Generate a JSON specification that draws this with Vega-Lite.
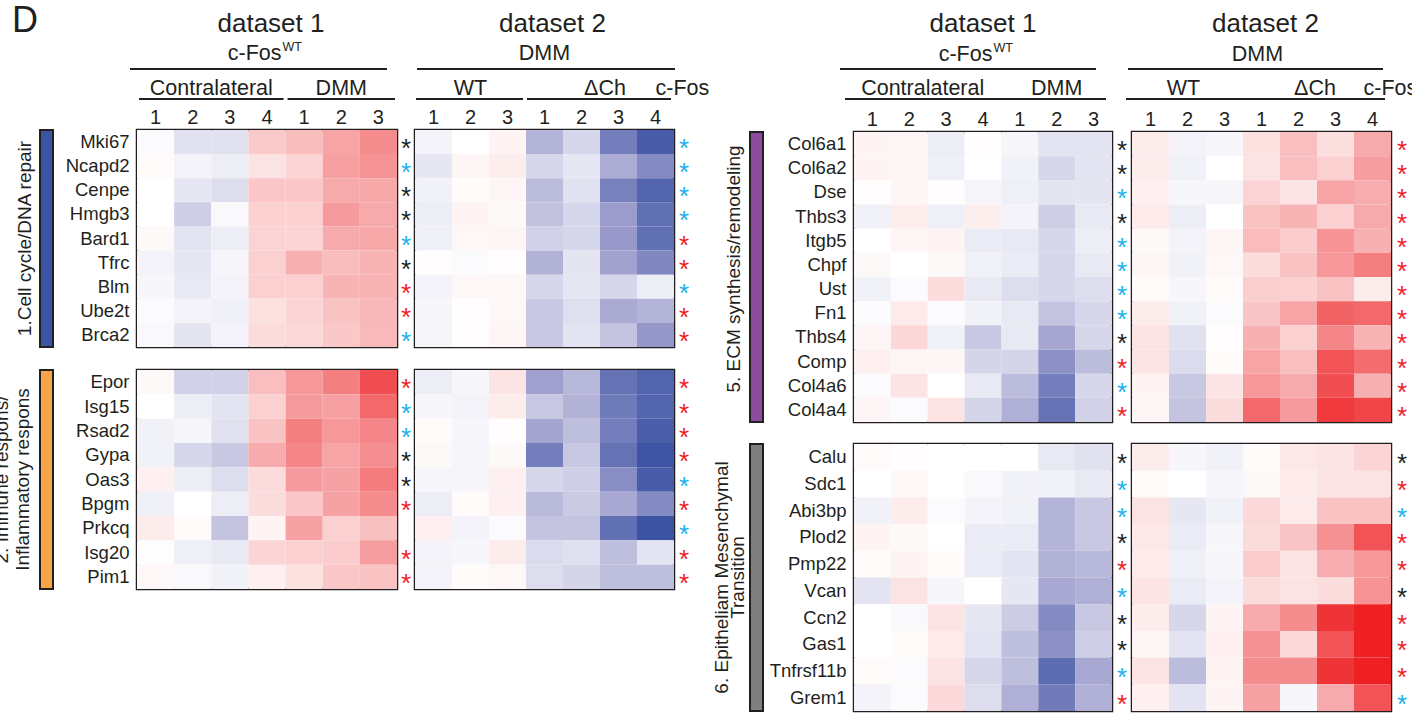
{
"$schema":"https://vega.github.io/schema/vega-lite/v6.json",
"padding":0,
"background":"white",
"config":{"font":"Liberation Sans","view":{"stroke":null},"axis":{"labelFont":"Liberation Sans","labelColor":"#231f20","domain":false,"ticks":false,"grid":false},"text":{"font":"Liberation Sans","color":"#231f20"}},
"datasets":{
"cells":[
{"panel":"g1d1","gene":"Mki67","col":"C1","val":-0.02},{"panel":"g1d1","gene":"Mki67","col":"C2","val":-0.15},{"panel":"g1d1","gene":"Mki67","col":"C3","val":-0.15},{"panel":"g1d1","gene":"Mki67","col":"C4","val":0.28},{"panel":"g1d1","gene":"Mki67","col":"D1","val":0.35},{"panel":"g1d1","gene":"Mki67","col":"D2","val":0.48},{"panel":"g1d1","gene":"Mki67","col":"D3","val":0.58},
{"panel":"g1d1","gene":"Ncapd2","col":"C1","val":0.02},{"panel":"g1d1","gene":"Ncapd2","col":"C2","val":-0.06},{"panel":"g1d1","gene":"Ncapd2","col":"C3","val":-0.09},{"panel":"g1d1","gene":"Ncapd2","col":"C4","val":0.15},{"panel":"g1d1","gene":"Ncapd2","col":"D1","val":0.22},{"panel":"g1d1","gene":"Ncapd2","col":"D2","val":0.5},{"panel":"g1d1","gene":"Ncapd2","col":"D3","val":0.55},
{"panel":"g1d1","gene":"Cenpe","col":"C1","val":0},{"panel":"g1d1","gene":"Cenpe","col":"C2","val":-0.12},{"panel":"g1d1","gene":"Cenpe","col":"C3","val":-0.17},{"panel":"g1d1","gene":"Cenpe","col":"C4","val":0.3},{"panel":"g1d1","gene":"Cenpe","col":"D1","val":0.3},{"panel":"g1d1","gene":"Cenpe","col":"D2","val":0.45},{"panel":"g1d1","gene":"Cenpe","col":"D3","val":0.46},
{"panel":"g1d1","gene":"Hmgb3","col":"C1","val":0},{"panel":"g1d1","gene":"Hmgb3","col":"C2","val":-0.25},{"panel":"g1d1","gene":"Hmgb3","col":"C3","val":-0.03},{"panel":"g1d1","gene":"Hmgb3","col":"C4","val":0.24},{"panel":"g1d1","gene":"Hmgb3","col":"D1","val":0.24},{"panel":"g1d1","gene":"Hmgb3","col":"D2","val":0.52},{"panel":"g1d1","gene":"Hmgb3","col":"D3","val":0.45},
{"panel":"g1d1","gene":"Bard1","col":"C1","val":0.03},{"panel":"g1d1","gene":"Bard1","col":"C2","val":-0.14},{"panel":"g1d1","gene":"Bard1","col":"C3","val":-0.09},{"panel":"g1d1","gene":"Bard1","col":"C4","val":0.23},{"panel":"g1d1","gene":"Bard1","col":"D1","val":0.23},{"panel":"g1d1","gene":"Bard1","col":"D2","val":0.45},{"panel":"g1d1","gene":"Bard1","col":"D3","val":0.46},
{"panel":"g1d1","gene":"Tfrc","col":"C1","val":-0.06},{"panel":"g1d1","gene":"Tfrc","col":"C2","val":-0.12},{"panel":"g1d1","gene":"Tfrc","col":"C3","val":-0.05},{"panel":"g1d1","gene":"Tfrc","col":"C4","val":0.25},{"panel":"g1d1","gene":"Tfrc","col":"D1","val":0.42},{"panel":"g1d1","gene":"Tfrc","col":"D2","val":0.35},{"panel":"g1d1","gene":"Tfrc","col":"D3","val":0.4},
{"panel":"g1d1","gene":"Blm","col":"C1","val":-0.04},{"panel":"g1d1","gene":"Blm","col":"C2","val":-0.11},{"panel":"g1d1","gene":"Blm","col":"C3","val":-0.06},{"panel":"g1d1","gene":"Blm","col":"C4","val":0.25},{"panel":"g1d1","gene":"Blm","col":"D1","val":0.25},{"panel":"g1d1","gene":"Blm","col":"D2","val":0.4},{"panel":"g1d1","gene":"Blm","col":"D3","val":0.4},
{"panel":"g1d1","gene":"Ube2t","col":"C1","val":-0.02},{"panel":"g1d1","gene":"Ube2t","col":"C2","val":-0.06},{"panel":"g1d1","gene":"Ube2t","col":"C3","val":-0.08},{"panel":"g1d1","gene":"Ube2t","col":"C4","val":0.16},{"panel":"g1d1","gene":"Ube2t","col":"D1","val":0.22},{"panel":"g1d1","gene":"Ube2t","col":"D2","val":0.32},{"panel":"g1d1","gene":"Ube2t","col":"D3","val":0.38},
{"panel":"g1d1","gene":"Brca2","col":"C1","val":-0.03},{"panel":"g1d1","gene":"Brca2","col":"C2","val":-0.13},{"panel":"g1d1","gene":"Brca2","col":"C3","val":-0.06},{"panel":"g1d1","gene":"Brca2","col":"C4","val":0.19},{"panel":"g1d1","gene":"Brca2","col":"D1","val":0.2},{"panel":"g1d1","gene":"Brca2","col":"D2","val":0.29},{"panel":"g1d1","gene":"Brca2","col":"D3","val":0.37},
{"panel":"g1d2","gene":"Mki67","col":"W1","val":-0.06},{"panel":"g1d2","gene":"Mki67","col":"W2","val":0},{"panel":"g1d2","gene":"Mki67","col":"W3","val":0.06},{"panel":"g1d2","gene":"Mki67","col":"K1","val":-0.38},{"panel":"g1d2","gene":"Mki67","col":"K2","val":-0.2},{"panel":"g1d2","gene":"Mki67","col":"K3","val":-0.7},{"panel":"g1d2","gene":"Mki67","col":"K4","val":-0.93},
{"panel":"g1d2","gene":"Ncapd2","col":"W1","val":-0.12},{"panel":"g1d2","gene":"Ncapd2","col":"W2","val":0.05},{"panel":"g1d2","gene":"Ncapd2","col":"W3","val":0.09},{"panel":"g1d2","gene":"Ncapd2","col":"K1","val":-0.2},{"panel":"g1d2","gene":"Ncapd2","col":"K2","val":-0.12},{"panel":"g1d2","gene":"Ncapd2","col":"K3","val":-0.42},{"panel":"g1d2","gene":"Ncapd2","col":"K4","val":-0.62},
{"panel":"g1d2","gene":"Cenpe","col":"W1","val":-0.07},{"panel":"g1d2","gene":"Cenpe","col":"W2","val":0.02},{"panel":"g1d2","gene":"Cenpe","col":"W3","val":0.05},{"panel":"g1d2","gene":"Cenpe","col":"K1","val":-0.34},{"panel":"g1d2","gene":"Cenpe","col":"K2","val":-0.15},{"panel":"g1d2","gene":"Cenpe","col":"K3","val":-0.68},{"panel":"g1d2","gene":"Cenpe","col":"K4","val":-0.87},
{"panel":"g1d2","gene":"Hmgb3","col":"W1","val":-0.09},{"panel":"g1d2","gene":"Hmgb3","col":"W2","val":0.06},{"panel":"g1d2","gene":"Hmgb3","col":"W3","val":0.03},{"panel":"g1d2","gene":"Hmgb3","col":"K1","val":-0.31},{"panel":"g1d2","gene":"Hmgb3","col":"K2","val":-0.2},{"panel":"g1d2","gene":"Hmgb3","col":"K3","val":-0.5},{"panel":"g1d2","gene":"Hmgb3","col":"K4","val":-0.8},
{"panel":"g1d2","gene":"Bard1","col":"W1","val":-0.08},{"panel":"g1d2","gene":"Bard1","col":"W2","val":0.04},{"panel":"g1d2","gene":"Bard1","col":"W3","val":0.05},{"panel":"g1d2","gene":"Bard1","col":"K1","val":-0.23},{"panel":"g1d2","gene":"Bard1","col":"K2","val":-0.2},{"panel":"g1d2","gene":"Bard1","col":"K3","val":-0.52},{"panel":"g1d2","gene":"Bard1","col":"K4","val":-0.8},
{"panel":"g1d2","gene":"Tfrc","col":"W1","val":0.01},{"panel":"g1d2","gene":"Tfrc","col":"W2","val":-0.02},{"panel":"g1d2","gene":"Tfrc","col":"W3","val":0.01},{"panel":"g1d2","gene":"Tfrc","col":"K1","val":-0.39},{"panel":"g1d2","gene":"Tfrc","col":"K2","val":-0.13},{"panel":"g1d2","gene":"Tfrc","col":"K3","val":-0.47},{"panel":"g1d2","gene":"Tfrc","col":"K4","val":-0.64},
{"panel":"g1d2","gene":"Blm","col":"W1","val":-0.06},{"panel":"g1d2","gene":"Blm","col":"W2","val":0.04},{"panel":"g1d2","gene":"Blm","col":"W3","val":0.04},{"panel":"g1d2","gene":"Blm","col":"K1","val":-0.2},{"panel":"g1d2","gene":"Blm","col":"K2","val":-0.12},{"panel":"g1d2","gene":"Blm","col":"K3","val":-0.2},{"panel":"g1d2","gene":"Blm","col":"K4","val":-0.09},
{"panel":"g1d2","gene":"Ube2t","col":"W1","val":-0.04},{"panel":"g1d2","gene":"Ube2t","col":"W2","val":0.01},{"panel":"g1d2","gene":"Ube2t","col":"W3","val":0.04},{"panel":"g1d2","gene":"Ube2t","col":"K1","val":-0.28},{"panel":"g1d2","gene":"Ube2t","col":"K2","val":-0.16},{"panel":"g1d2","gene":"Ube2t","col":"K3","val":-0.43},{"panel":"g1d2","gene":"Ube2t","col":"K4","val":-0.38},
{"panel":"g1d2","gene":"Brca2","col":"W1","val":-0.05},{"panel":"g1d2","gene":"Brca2","col":"W2","val":0.01},{"panel":"g1d2","gene":"Brca2","col":"W3","val":0.05},{"panel":"g1d2","gene":"Brca2","col":"K1","val":-0.28},{"panel":"g1d2","gene":"Brca2","col":"K2","val":-0.14},{"panel":"g1d2","gene":"Brca2","col":"K3","val":-0.3},{"panel":"g1d2","gene":"Brca2","col":"K4","val":-0.53},
{"panel":"g2d1","gene":"Epor","col":"C1","val":0.03},{"panel":"g2d1","gene":"Epor","col":"C2","val":-0.23},{"panel":"g2d1","gene":"Epor","col":"C3","val":-0.23},{"panel":"g2d1","gene":"Epor","col":"C4","val":0.34},{"panel":"g2d1","gene":"Epor","col":"D1","val":0.53},{"panel":"g2d1","gene":"Epor","col":"D2","val":0.63},{"panel":"g2d1","gene":"Epor","col":"D3","val":0.82},
{"panel":"g2d1","gene":"Isg15","col":"C1","val":0},{"panel":"g2d1","gene":"Isg15","col":"C2","val":-0.09},{"panel":"g2d1","gene":"Isg15","col":"C3","val":-0.14},{"panel":"g2d1","gene":"Isg15","col":"C4","val":0.25},{"panel":"g2d1","gene":"Isg15","col":"D1","val":0.52},{"panel":"g2d1","gene":"Isg15","col":"D2","val":0.5},{"panel":"g2d1","gene":"Isg15","col":"D3","val":0.72},
{"panel":"g2d1","gene":"Rsad2","col":"C1","val":-0.07},{"panel":"g2d1","gene":"Rsad2","col":"C2","val":-0.05},{"panel":"g2d1","gene":"Rsad2","col":"C3","val":-0.15},{"panel":"g2d1","gene":"Rsad2","col":"C4","val":0.32},{"panel":"g2d1","gene":"Rsad2","col":"D1","val":0.63},{"panel":"g2d1","gene":"Rsad2","col":"D2","val":0.53},{"panel":"g2d1","gene":"Rsad2","col":"D3","val":0.6},
{"panel":"g2d1","gene":"Gypa","col":"C1","val":-0.07},{"panel":"g2d1","gene":"Gypa","col":"C2","val":-0.2},{"panel":"g2d1","gene":"Gypa","col":"C3","val":-0.28},{"panel":"g2d1","gene":"Gypa","col":"C4","val":0.44},{"panel":"g2d1","gene":"Gypa","col":"D1","val":0.6},{"panel":"g2d1","gene":"Gypa","col":"D2","val":0.48},{"panel":"g2d1","gene":"Gypa","col":"D3","val":0.57},
{"panel":"g2d1","gene":"Oas3","col":"C1","val":0.08},{"panel":"g2d1","gene":"Oas3","col":"C2","val":-0.09},{"panel":"g2d1","gene":"Oas3","col":"C3","val":-0.17},{"panel":"g2d1","gene":"Oas3","col":"C4","val":0.19},{"panel":"g2d1","gene":"Oas3","col":"D1","val":0.52},{"panel":"g2d1","gene":"Oas3","col":"D2","val":0.49},{"panel":"g2d1","gene":"Oas3","col":"D3","val":0.64},
{"panel":"g2d1","gene":"Bpgm","col":"C1","val":-0.08},{"panel":"g2d1","gene":"Bpgm","col":"C2","val":0},{"panel":"g2d1","gene":"Bpgm","col":"C3","val":-0.09},{"panel":"g2d1","gene":"Bpgm","col":"C4","val":0.18},{"panel":"g2d1","gene":"Bpgm","col":"D1","val":0.3},{"panel":"g2d1","gene":"Bpgm","col":"D2","val":0.49},{"panel":"g2d1","gene":"Bpgm","col":"D3","val":0.58},
{"panel":"g2d1","gene":"Prkcq","col":"C1","val":0.1},{"panel":"g2d1","gene":"Prkcq","col":"C2","val":0.02},{"panel":"g2d1","gene":"Prkcq","col":"C3","val":-0.3},{"panel":"g2d1","gene":"Prkcq","col":"C4","val":0.06},{"panel":"g2d1","gene":"Prkcq","col":"D1","val":0.49},{"panel":"g2d1","gene":"Prkcq","col":"D2","val":0.25},{"panel":"g2d1","gene":"Prkcq","col":"D3","val":0.33},
{"panel":"g2d1","gene":"Isg20","col":"C1","val":-0.01},{"panel":"g2d1","gene":"Isg20","col":"C2","val":-0.08},{"panel":"g2d1","gene":"Isg20","col":"C3","val":-0.11},{"panel":"g2d1","gene":"Isg20","col":"C4","val":0.22},{"panel":"g2d1","gene":"Isg20","col":"D1","val":0.25},{"panel":"g2d1","gene":"Isg20","col":"D2","val":0.27},{"panel":"g2d1","gene":"Isg20","col":"D3","val":0.51},
{"panel":"g2d1","gene":"Pim1","col":"C1","val":0.04},{"panel":"g2d1","gene":"Pim1","col":"C2","val":-0.03},{"panel":"g2d1","gene":"Pim1","col":"C3","val":-0.07},{"panel":"g2d1","gene":"Pim1","col":"C4","val":0.08},{"panel":"g2d1","gene":"Pim1","col":"D1","val":0.16},{"panel":"g2d1","gene":"Pim1","col":"D2","val":0.3},{"panel":"g2d1","gene":"Pim1","col":"D3","val":0.32},
{"panel":"g2d2","gene":"Epor","col":"W1","val":-0.09},{"panel":"g2d2","gene":"Epor","col":"W2","val":-0.04},{"panel":"g2d2","gene":"Epor","col":"W3","val":0.14},{"panel":"g2d2","gene":"Epor","col":"K1","val":-0.48},{"panel":"g2d2","gene":"Epor","col":"K2","val":-0.36},{"panel":"g2d2","gene":"Epor","col":"K3","val":-0.78},{"panel":"g2d2","gene":"Epor","col":"K4","val":-0.88},
{"panel":"g2d2","gene":"Isg15","col":"W1","val":-0.04},{"panel":"g2d2","gene":"Isg15","col":"W2","val":-0.06},{"panel":"g2d2","gene":"Isg15","col":"W3","val":0.1},{"panel":"g2d2","gene":"Isg15","col":"K1","val":-0.28},{"panel":"g2d2","gene":"Isg15","col":"K2","val":-0.39},{"panel":"g2d2","gene":"Isg15","col":"K3","val":-0.73},{"panel":"g2d2","gene":"Isg15","col":"K4","val":-0.87},
{"panel":"g2d2","gene":"Rsad2","col":"W1","val":0.02},{"panel":"g2d2","gene":"Rsad2","col":"W2","val":-0.04},{"panel":"g2d2","gene":"Rsad2","col":"W3","val":0.01},{"panel":"g2d2","gene":"Rsad2","col":"K1","val":-0.46},{"panel":"g2d2","gene":"Rsad2","col":"K2","val":-0.33},{"panel":"g2d2","gene":"Rsad2","col":"K3","val":-0.7},{"panel":"g2d2","gene":"Rsad2","col":"K4","val":-0.92},
{"panel":"g2d2","gene":"Gypa","col":"W1","val":0.03},{"panel":"g2d2","gene":"Gypa","col":"W2","val":-0.05},{"panel":"g2d2","gene":"Gypa","col":"W3","val":0.03},{"panel":"g2d2","gene":"Gypa","col":"K1","val":-0.7},{"panel":"g2d2","gene":"Gypa","col":"K2","val":-0.28},{"panel":"g2d2","gene":"Gypa","col":"K3","val":-0.78},{"panel":"g2d2","gene":"Gypa","col":"K4","val":-0.98},
{"panel":"g2d2","gene":"Oas3","col":"W1","val":-0.05},{"panel":"g2d2","gene":"Oas3","col":"W2","val":-0.05},{"panel":"g2d2","gene":"Oas3","col":"W3","val":0.08},{"panel":"g2d2","gene":"Oas3","col":"K1","val":-0.2},{"panel":"g2d2","gene":"Oas3","col":"K2","val":-0.25},{"panel":"g2d2","gene":"Oas3","col":"K3","val":-0.6},{"panel":"g2d2","gene":"Oas3","col":"K4","val":-0.93},
{"panel":"g2d2","gene":"Bpgm","col":"W1","val":-0.09},{"panel":"g2d2","gene":"Bpgm","col":"W2","val":0.02},{"panel":"g2d2","gene":"Bpgm","col":"W3","val":0.08},{"panel":"g2d2","gene":"Bpgm","col":"K1","val":-0.35},{"panel":"g2d2","gene":"Bpgm","col":"K2","val":-0.27},{"panel":"g2d2","gene":"Bpgm","col":"K3","val":-0.44},{"panel":"g2d2","gene":"Bpgm","col":"K4","val":-0.62},
{"panel":"g2d2","gene":"Prkcq","col":"W1","val":0.08},{"panel":"g2d2","gene":"Prkcq","col":"W2","val":-0.06},{"panel":"g2d2","gene":"Prkcq","col":"W3","val":-0.02},{"panel":"g2d2","gene":"Prkcq","col":"K1","val":-0.3},{"panel":"g2d2","gene":"Prkcq","col":"K2","val":-0.3},{"panel":"g2d2","gene":"Prkcq","col":"K3","val":-0.8},{"panel":"g2d2","gene":"Prkcq","col":"K4","val":-0.99},
{"panel":"g2d2","gene":"Isg20","col":"W1","val":-0.06},{"panel":"g2d2","gene":"Isg20","col":"W2","val":-0.04},{"panel":"g2d2","gene":"Isg20","col":"W3","val":0.1},{"panel":"g2d2","gene":"Isg20","col":"K1","val":-0.18},{"panel":"g2d2","gene":"Isg20","col":"K2","val":-0.16},{"panel":"g2d2","gene":"Isg20","col":"K3","val":-0.33},{"panel":"g2d2","gene":"Isg20","col":"K4","val":-0.14},
{"panel":"g2d2","gene":"Pim1","col":"W1","val":-0.06},{"panel":"g2d2","gene":"Pim1","col":"W2","val":0.02},{"panel":"g2d2","gene":"Pim1","col":"W3","val":0.04},{"panel":"g2d2","gene":"Pim1","col":"K1","val":-0.17},{"panel":"g2d2","gene":"Pim1","col":"K2","val":-0.21},{"panel":"g2d2","gene":"Pim1","col":"K3","val":-0.33},{"panel":"g2d2","gene":"Pim1","col":"K4","val":-0.33},
{"panel":"g5d1","gene":"Col6a1","col":"C1","val":0.06},{"panel":"g5d1","gene":"Col6a1","col":"C2","val":0.05},{"panel":"g5d1","gene":"Col6a1","col":"C3","val":-0.09},{"panel":"g5d1","gene":"Col6a1","col":"C4","val":0.01},{"panel":"g5d1","gene":"Col6a1","col":"D1","val":-0.05},{"panel":"g5d1","gene":"Col6a1","col":"D2","val":-0.14},{"panel":"g5d1","gene":"Col6a1","col":"D3","val":-0.14},
{"panel":"g5d1","gene":"Col6a2","col":"C1","val":0.06},{"panel":"g5d1","gene":"Col6a2","col":"C2","val":0.05},{"panel":"g5d1","gene":"Col6a2","col":"C3","val":-0.08},{"panel":"g5d1","gene":"Col6a2","col":"C4","val":0},{"panel":"g5d1","gene":"Col6a2","col":"D1","val":-0.07},{"panel":"g5d1","gene":"Col6a2","col":"D2","val":-0.2},{"panel":"g5d1","gene":"Col6a2","col":"D3","val":-0.14},
{"panel":"g5d1","gene":"Dse","col":"C1","val":0.01},{"panel":"g5d1","gene":"Dse","col":"C2","val":0.05},{"panel":"g5d1","gene":"Dse","col":"C3","val":0.01},{"panel":"g5d1","gene":"Dse","col":"C4","val":-0.05},{"panel":"g5d1","gene":"Dse","col":"D1","val":-0.08},{"panel":"g5d1","gene":"Dse","col":"D2","val":-0.13},{"panel":"g5d1","gene":"Dse","col":"D3","val":-0.13},
{"panel":"g5d1","gene":"Thbs3","col":"C1","val":-0.07},{"panel":"g5d1","gene":"Thbs3","col":"C2","val":0.09},{"panel":"g5d1","gene":"Thbs3","col":"C3","val":-0.08},{"panel":"g5d1","gene":"Thbs3","col":"C4","val":0.09},{"panel":"g5d1","gene":"Thbs3","col":"D1","val":-0.06},{"panel":"g5d1","gene":"Thbs3","col":"D2","val":-0.25},{"panel":"g5d1","gene":"Thbs3","col":"D3","val":-0.11},
{"panel":"g5d1","gene":"Itgb5","col":"C1","val":0},{"panel":"g5d1","gene":"Itgb5","col":"C2","val":0.05},{"panel":"g5d1","gene":"Itgb5","col":"C3","val":0.06},{"panel":"g5d1","gene":"Itgb5","col":"C4","val":-0.1},{"panel":"g5d1","gene":"Itgb5","col":"D1","val":-0.11},{"panel":"g5d1","gene":"Itgb5","col":"D2","val":-0.2},{"panel":"g5d1","gene":"Itgb5","col":"D3","val":-0.09},
{"panel":"g5d1","gene":"Chpf","col":"C1","val":0.03},{"panel":"g5d1","gene":"Chpf","col":"C2","val":0},{"panel":"g5d1","gene":"Chpf","col":"C3","val":0.03},{"panel":"g5d1","gene":"Chpf","col":"C4","val":-0.07},{"panel":"g5d1","gene":"Chpf","col":"D1","val":-0.1},{"panel":"g5d1","gene":"Chpf","col":"D2","val":-0.2},{"panel":"g5d1","gene":"Chpf","col":"D3","val":-0.11},
{"panel":"g5d1","gene":"Ust","col":"C1","val":-0.07},{"panel":"g5d1","gene":"Ust","col":"C2","val":-0.02},{"panel":"g5d1","gene":"Ust","col":"C3","val":0.18},{"panel":"g5d1","gene":"Ust","col":"C4","val":-0.11},{"panel":"g5d1","gene":"Ust","col":"D1","val":-0.17},{"panel":"g5d1","gene":"Ust","col":"D2","val":-0.2},{"panel":"g5d1","gene":"Ust","col":"D3","val":-0.17},
{"panel":"g5d1","gene":"Fn1","col":"C1","val":-0.02},{"panel":"g5d1","gene":"Fn1","col":"C2","val":0.11},{"panel":"g5d1","gene":"Fn1","col":"C3","val":-0.02},{"panel":"g5d1","gene":"Fn1","col":"C4","val":-0.07},{"panel":"g5d1","gene":"Fn1","col":"D1","val":-0.11},{"panel":"g5d1","gene":"Fn1","col":"D2","val":-0.3},{"panel":"g5d1","gene":"Fn1","col":"D3","val":-0.2},
{"panel":"g5d1","gene":"Thbs4","col":"C1","val":0.05},{"panel":"g5d1","gene":"Thbs4","col":"C2","val":0.21},{"panel":"g5d1","gene":"Thbs4","col":"C3","val":-0.07},{"panel":"g5d1","gene":"Thbs4","col":"C4","val":-0.28},{"panel":"g5d1","gene":"Thbs4","col":"D1","val":-0.11},{"panel":"g5d1","gene":"Thbs4","col":"D2","val":-0.45},{"panel":"g5d1","gene":"Thbs4","col":"D3","val":-0.2},
{"panel":"g5d1","gene":"Comp","col":"C1","val":0.08},{"panel":"g5d1","gene":"Comp","col":"C2","val":0.05},{"panel":"g5d1","gene":"Comp","col":"C3","val":0.05},{"panel":"g5d1","gene":"Comp","col":"C4","val":-0.21},{"panel":"g5d1","gene":"Comp","col":"D1","val":-0.21},{"panel":"g5d1","gene":"Comp","col":"D2","val":-0.58},{"panel":"g5d1","gene":"Comp","col":"D3","val":-0.34},
{"panel":"g5d1","gene":"Col4a6","col":"C1","val":-0.02},{"panel":"g5d1","gene":"Col4a6","col":"C2","val":0.14},{"panel":"g5d1","gene":"Col4a6","col":"C3","val":0},{"panel":"g5d1","gene":"Col4a6","col":"C4","val":-0.11},{"panel":"g5d1","gene":"Col4a6","col":"D1","val":-0.34},{"panel":"g5d1","gene":"Col4a6","col":"D2","val":-0.7},{"panel":"g5d1","gene":"Col4a6","col":"D3","val":-0.2},
{"panel":"g5d1","gene":"Col4a4","col":"C1","val":0.05},{"panel":"g5d1","gene":"Col4a4","col":"C2","val":-0.02},{"panel":"g5d1","gene":"Col4a4","col":"C3","val":0.14},{"panel":"g5d1","gene":"Col4a4","col":"C4","val":-0.21},{"panel":"g5d1","gene":"Col4a4","col":"D1","val":-0.4},{"panel":"g5d1","gene":"Col4a4","col":"D2","val":-0.78},{"panel":"g5d1","gene":"Col4a4","col":"D3","val":-0.23},
{"panel":"g5d2","gene":"Col6a1","col":"W1","val":0.1},{"panel":"g5d2","gene":"Col6a1","col":"W2","val":-0.06},{"panel":"g5d2","gene":"Col6a1","col":"W3","val":-0.04},{"panel":"g5d2","gene":"Col6a1","col":"K1","val":0.16},{"panel":"g5d2","gene":"Col6a1","col":"K2","val":0.34},{"panel":"g5d2","gene":"Col6a1","col":"K3","val":0.17},{"panel":"g5d2","gene":"Col6a1","col":"K4","val":0.45},
{"panel":"g5d2","gene":"Col6a2","col":"W1","val":0.1},{"panel":"g5d2","gene":"Col6a2","col":"W2","val":-0.07},{"panel":"g5d2","gene":"Col6a2","col":"W3","val":0},{"panel":"g5d2","gene":"Col6a2","col":"K1","val":0.15},{"panel":"g5d2","gene":"Col6a2","col":"K2","val":0.34},{"panel":"g5d2","gene":"Col6a2","col":"K3","val":0.25},{"panel":"g5d2","gene":"Col6a2","col":"K4","val":0.51},
{"panel":"g5d2","gene":"Dse","col":"W1","val":0.08},{"panel":"g5d2","gene":"Dse","col":"W2","val":-0.04},{"panel":"g5d2","gene":"Dse","col":"W3","val":-0.04},{"panel":"g5d2","gene":"Dse","col":"K1","val":0.23},{"panel":"g5d2","gene":"Dse","col":"K2","val":0.14},{"panel":"g5d2","gene":"Dse","col":"K3","val":0.48},{"panel":"g5d2","gene":"Dse","col":"K4","val":0.43},
{"panel":"g5d2","gene":"Thbs3","col":"W1","val":0.11},{"panel":"g5d2","gene":"Thbs3","col":"W2","val":-0.09},{"panel":"g5d2","gene":"Thbs3","col":"W3","val":0},{"panel":"g5d2","gene":"Thbs3","col":"K1","val":0.32},{"panel":"g5d2","gene":"Thbs3","col":"K2","val":0.4},{"panel":"g5d2","gene":"Thbs3","col":"K3","val":0.25},{"panel":"g5d2","gene":"Thbs3","col":"K4","val":0.45},
{"panel":"g5d2","gene":"Itgb5","col":"W1","val":0.03},{"panel":"g5d2","gene":"Itgb5","col":"W2","val":-0.06},{"panel":"g5d2","gene":"Itgb5","col":"W3","val":0.05},{"panel":"g5d2","gene":"Itgb5","col":"K1","val":0.36},{"panel":"g5d2","gene":"Itgb5","col":"K2","val":0.27},{"panel":"g5d2","gene":"Itgb5","col":"K3","val":0.55},{"panel":"g5d2","gene":"Itgb5","col":"K4","val":0.41},
{"panel":"g5d2","gene":"Chpf","col":"W1","val":0.05},{"panel":"g5d2","gene":"Chpf","col":"W2","val":-0.07},{"panel":"g5d2","gene":"Chpf","col":"W3","val":0.04},{"panel":"g5d2","gene":"Chpf","col":"K1","val":0.18},{"panel":"g5d2","gene":"Chpf","col":"K2","val":0.32},{"panel":"g5d2","gene":"Chpf","col":"K3","val":0.53},{"panel":"g5d2","gene":"Chpf","col":"K4","val":0.63},
{"panel":"g5d2","gene":"Ust","col":"W1","val":0.02},{"panel":"g5d2","gene":"Ust","col":"W2","val":-0.04},{"panel":"g5d2","gene":"Ust","col":"W3","val":0.02},{"panel":"g5d2","gene":"Ust","col":"K1","val":0.26},{"panel":"g5d2","gene":"Ust","col":"K2","val":0.24},{"panel":"g5d2","gene":"Ust","col":"K3","val":0.32},{"panel":"g5d2","gene":"Ust","col":"K4","val":0.1},
{"panel":"g5d2","gene":"Fn1","col":"W1","val":0.1},{"panel":"g5d2","gene":"Fn1","col":"W2","val":-0.07},{"panel":"g5d2","gene":"Fn1","col":"W3","val":-0.02},{"panel":"g5d2","gene":"Fn1","col":"K1","val":0.31},{"panel":"g5d2","gene":"Fn1","col":"K2","val":0.48},{"panel":"g5d2","gene":"Fn1","col":"K3","val":0.74},{"panel":"g5d2","gene":"Fn1","col":"K4","val":0.72},
{"panel":"g5d2","gene":"Thbs4","col":"W1","val":0.14},{"panel":"g5d2","gene":"Thbs4","col":"W2","val":-0.15},{"panel":"g5d2","gene":"Thbs4","col":"W3","val":0.01},{"panel":"g5d2","gene":"Thbs4","col":"K1","val":0.41},{"panel":"g5d2","gene":"Thbs4","col":"K2","val":0.25},{"panel":"g5d2","gene":"Thbs4","col":"K3","val":0.6},{"panel":"g5d2","gene":"Thbs4","col":"K4","val":0.4},
{"panel":"g5d2","gene":"Comp","col":"W1","val":0.14},{"panel":"g5d2","gene":"Comp","col":"W2","val":-0.18},{"panel":"g5d2","gene":"Comp","col":"W3","val":0.02},{"panel":"g5d2","gene":"Comp","col":"K1","val":0.48},{"panel":"g5d2","gene":"Comp","col":"K2","val":0.34},{"panel":"g5d2","gene":"Comp","col":"K3","val":0.8},{"panel":"g5d2","gene":"Comp","col":"K4","val":0.7},
{"panel":"g5d2","gene":"Col4a6","col":"W1","val":0.06},{"panel":"g5d2","gene":"Col4a6","col":"W2","val":-0.28},{"panel":"g5d2","gene":"Col4a6","col":"W3","val":0.14},{"panel":"g5d2","gene":"Col4a6","col":"K1","val":0.53},{"panel":"g5d2","gene":"Col4a6","col":"K2","val":0.45},{"panel":"g5d2","gene":"Col4a6","col":"K3","val":0.82},{"panel":"g5d2","gene":"Col4a6","col":"K4","val":0.42},
{"panel":"g5d2","gene":"Col4a4","col":"W1","val":0.05},{"panel":"g5d2","gene":"Col4a4","col":"W2","val":-0.3},{"panel":"g5d2","gene":"Col4a4","col":"W3","val":0.18},{"panel":"g5d2","gene":"Col4a4","col":"K1","val":0.72},{"panel":"g5d2","gene":"Col4a4","col":"K2","val":0.52},{"panel":"g5d2","gene":"Col4a4","col":"K3","val":0.9},{"panel":"g5d2","gene":"Col4a4","col":"K4","val":0.85},
{"panel":"g6d1","gene":"Calu","col":"C1","val":0.02},{"panel":"g6d1","gene":"Calu","col":"C2","val":0.01},{"panel":"g6d1","gene":"Calu","col":"C3","val":0},{"panel":"g6d1","gene":"Calu","col":"C4","val":0},{"panel":"g6d1","gene":"Calu","col":"D1","val":0},{"panel":"g6d1","gene":"Calu","col":"D2","val":-0.11},{"panel":"g6d1","gene":"Calu","col":"D3","val":-0.15},
{"panel":"g6d1","gene":"Sdc1","col":"C1","val":0},{"panel":"g6d1","gene":"Sdc1","col":"C2","val":0.04},{"panel":"g6d1","gene":"Sdc1","col":"C3","val":0},{"panel":"g6d1","gene":"Sdc1","col":"C4","val":-0.03},{"panel":"g6d1","gene":"Sdc1","col":"D1","val":-0.07},{"panel":"g6d1","gene":"Sdc1","col":"D2","val":-0.07},{"panel":"g6d1","gene":"Sdc1","col":"D3","val":-0.11},
{"panel":"g6d1","gene":"Abi3bp","col":"C1","val":-0.07},{"panel":"g6d1","gene":"Abi3bp","col":"C2","val":0.1},{"panel":"g6d1","gene":"Abi3bp","col":"C3","val":-0.02},{"panel":"g6d1","gene":"Abi3bp","col":"C4","val":-0.06},{"panel":"g6d1","gene":"Abi3bp","col":"D1","val":-0.07},{"panel":"g6d1","gene":"Abi3bp","col":"D2","val":-0.38},{"panel":"g6d1","gene":"Abi3bp","col":"D3","val":-0.28},
{"panel":"g6d1","gene":"Plod2","col":"C1","val":0.06},{"panel":"g6d1","gene":"Plod2","col":"C2","val":0.03},{"panel":"g6d1","gene":"Plod2","col":"C3","val":0},{"panel":"g6d1","gene":"Plod2","col":"C4","val":-0.1},{"panel":"g6d1","gene":"Plod2","col":"D1","val":-0.1},{"panel":"g6d1","gene":"Plod2","col":"D2","val":-0.38},{"panel":"g6d1","gene":"Plod2","col":"D3","val":-0.28},
{"panel":"g6d1","gene":"Pmp22","col":"C1","val":0.02},{"panel":"g6d1","gene":"Pmp22","col":"C2","val":0.06},{"panel":"g6d1","gene":"Pmp22","col":"C3","val":0.02},{"panel":"g6d1","gene":"Pmp22","col":"C4","val":-0.1},{"panel":"g6d1","gene":"Pmp22","col":"D1","val":-0.14},{"panel":"g6d1","gene":"Pmp22","col":"D2","val":-0.39},{"panel":"g6d1","gene":"Pmp22","col":"D3","val":-0.36},
{"panel":"g6d1","gene":"Vcan","col":"C1","val":-0.14},{"panel":"g6d1","gene":"Vcan","col":"C2","val":0.15},{"panel":"g6d1","gene":"Vcan","col":"C3","val":-0.04},{"panel":"g6d1","gene":"Vcan","col":"C4","val":0},{"panel":"g6d1","gene":"Vcan","col":"D1","val":-0.12},{"panel":"g6d1","gene":"Vcan","col":"D2","val":-0.44},{"panel":"g6d1","gene":"Vcan","col":"D3","val":-0.4},
{"panel":"g6d1","gene":"Ccn2","col":"C1","val":0},{"panel":"g6d1","gene":"Ccn2","col":"C2","val":-0.03},{"panel":"g6d1","gene":"Ccn2","col":"C3","val":0.14},{"panel":"g6d1","gene":"Ccn2","col":"C4","val":-0.12},{"panel":"g6d1","gene":"Ccn2","col":"D1","val":-0.26},{"panel":"g6d1","gene":"Ccn2","col":"D2","val":-0.62},{"panel":"g6d1","gene":"Ccn2","col":"D3","val":-0.28},
{"panel":"g6d1","gene":"Gas1","col":"C1","val":0},{"panel":"g6d1","gene":"Gas1","col":"C2","val":0.02},{"panel":"g6d1","gene":"Gas1","col":"C3","val":0.11},{"panel":"g6d1","gene":"Gas1","col":"C4","val":-0.14},{"panel":"g6d1","gene":"Gas1","col":"D1","val":-0.33},{"panel":"g6d1","gene":"Gas1","col":"D2","val":-0.58},{"panel":"g6d1","gene":"Gas1","col":"D3","val":-0.25},
{"panel":"g6d1","gene":"Tnfrsf11b","col":"C1","val":0.02},{"panel":"g6d1","gene":"Tnfrsf11b","col":"C2","val":-0.02},{"panel":"g6d1","gene":"Tnfrsf11b","col":"C3","val":0.14},{"panel":"g6d1","gene":"Tnfrsf11b","col":"C4","val":-0.2},{"panel":"g6d1","gene":"Tnfrsf11b","col":"D1","val":-0.33},{"panel":"g6d1","gene":"Tnfrsf11b","col":"D2","val":-0.82},{"panel":"g6d1","gene":"Tnfrsf11b","col":"D3","val":-0.44},
{"panel":"g6d1","gene":"Grem1","col":"C1","val":-0.06},{"panel":"g6d1","gene":"Grem1","col":"C2","val":-0.02},{"panel":"g6d1","gene":"Grem1","col":"C3","val":0.2},{"panel":"g6d1","gene":"Grem1","col":"C4","val":-0.17},{"panel":"g6d1","gene":"Grem1","col":"D1","val":-0.4},{"panel":"g6d1","gene":"Grem1","col":"D2","val":-0.72},{"panel":"g6d1","gene":"Grem1","col":"D3","val":-0.4},
{"panel":"g6d2","gene":"Calu","col":"W1","val":0.1},{"panel":"g6d2","gene":"Calu","col":"W2","val":-0.04},{"panel":"g6d2","gene":"Calu","col":"W3","val":-0.07},{"panel":"g6d2","gene":"Calu","col":"K1","val":0.02},{"panel":"g6d2","gene":"Calu","col":"K2","val":0.12},{"panel":"g6d2","gene":"Calu","col":"K3","val":0.14},{"panel":"g6d2","gene":"Calu","col":"K4","val":0.22},
{"panel":"g6d2","gene":"Sdc1","col":"W1","val":0.02},{"panel":"g6d2","gene":"Sdc1","col":"W2","val":0},{"panel":"g6d2","gene":"Sdc1","col":"W3","val":-0.04},{"panel":"g6d2","gene":"Sdc1","col":"K1","val":0.03},{"panel":"g6d2","gene":"Sdc1","col":"K2","val":0.11},{"panel":"g6d2","gene":"Sdc1","col":"K3","val":0.15},{"panel":"g6d2","gene":"Sdc1","col":"K4","val":0.15},
{"panel":"g6d2","gene":"Abi3bp","col":"W1","val":0.15},{"panel":"g6d2","gene":"Abi3bp","col":"W2","val":-0.12},{"panel":"g6d2","gene":"Abi3bp","col":"W3","val":-0.07},{"panel":"g6d2","gene":"Abi3bp","col":"K1","val":0.2},{"panel":"g6d2","gene":"Abi3bp","col":"K2","val":0.11},{"panel":"g6d2","gene":"Abi3bp","col":"K3","val":0.32},{"panel":"g6d2","gene":"Abi3bp","col":"K4","val":0.32},
{"panel":"g6d2","gene":"Plod2","col":"W1","val":0.12},{"panel":"g6d2","gene":"Plod2","col":"W2","val":-0.1},{"panel":"g6d2","gene":"Plod2","col":"W3","val":-0.04},{"panel":"g6d2","gene":"Plod2","col":"K1","val":0.19},{"panel":"g6d2","gene":"Plod2","col":"K2","val":0.31},{"panel":"g6d2","gene":"Plod2","col":"K3","val":0.56},{"panel":"g6d2","gene":"Plod2","col":"K4","val":0.8},
{"panel":"g6d2","gene":"Pmp22","col":"W1","val":0.11},{"panel":"g6d2","gene":"Pmp22","col":"W2","val":-0.08},{"panel":"g6d2","gene":"Pmp22","col":"W3","val":-0.04},{"panel":"g6d2","gene":"Pmp22","col":"K1","val":0.27},{"panel":"g6d2","gene":"Pmp22","col":"K2","val":0.15},{"panel":"g6d2","gene":"Pmp22","col":"K3","val":0.43},{"panel":"g6d2","gene":"Pmp22","col":"K4","val":0.53},
{"panel":"g6d2","gene":"Vcan","col":"W1","val":0.14},{"panel":"g6d2","gene":"Vcan","col":"W2","val":-0.1},{"panel":"g6d2","gene":"Vcan","col":"W3","val":-0.06},{"panel":"g6d2","gene":"Vcan","col":"K1","val":0.19},{"panel":"g6d2","gene":"Vcan","col":"K2","val":0.15},{"panel":"g6d2","gene":"Vcan","col":"K3","val":0.18},{"panel":"g6d2","gene":"Vcan","col":"K4","val":0.55},
{"panel":"g6d2","gene":"Ccn2","col":"W1","val":0.1},{"panel":"g6d2","gene":"Ccn2","col":"W2","val":-0.2},{"panel":"g6d2","gene":"Ccn2","col":"W3","val":0.06},{"panel":"g6d2","gene":"Ccn2","col":"K1","val":0.44},{"panel":"g6d2","gene":"Ccn2","col":"K2","val":0.58},{"panel":"g6d2","gene":"Ccn2","col":"K3","val":0.92},{"panel":"g6d2","gene":"Ccn2","col":"K4","val":1.0},
{"panel":"g6d2","gene":"Gas1","col":"W1","val":0.05},{"panel":"g6d2","gene":"Gas1","col":"W2","val":-0.14},{"panel":"g6d2","gene":"Gas1","col":"W3","val":0.08},{"panel":"g6d2","gene":"Gas1","col":"K1","val":0.56},{"panel":"g6d2","gene":"Gas1","col":"K2","val":0.2},{"panel":"g6d2","gene":"Gas1","col":"K3","val":0.8},{"panel":"g6d2","gene":"Gas1","col":"K4","val":1.0},
{"panel":"g6d2","gene":"Tnfrsf11b","col":"W1","val":0.14},{"panel":"g6d2","gene":"Tnfrsf11b","col":"W2","val":-0.34},{"panel":"g6d2","gene":"Tnfrsf11b","col":"W3","val":0.06},{"panel":"g6d2","gene":"Tnfrsf11b","col":"K1","val":0.58},{"panel":"g6d2","gene":"Tnfrsf11b","col":"K2","val":0.58},{"panel":"g6d2","gene":"Tnfrsf11b","col":"K3","val":0.92},{"panel":"g6d2","gene":"Tnfrsf11b","col":"K4","val":1.0},
{"panel":"g6d2","gene":"Grem1","col":"W1","val":0.08},{"panel":"g6d2","gene":"Grem1","col":"W2","val":-0.14},{"panel":"g6d2","gene":"Grem1","col":"W3","val":0.06},{"panel":"g6d2","gene":"Grem1","col":"K1","val":0.49},{"panel":"g6d2","gene":"Grem1","col":"K2","val":-0.04},{"panel":"g6d2","gene":"Grem1","col":"K3","val":0.45},{"panel":"g6d2","gene":"Grem1","col":"K4","val":0.8}
],
"stars":[
{"panel":"g1d1","gene":"Mki67","sig":"ns"},{"panel":"g1d1","gene":"Ncapd2","sig":"down"},{"panel":"g1d1","gene":"Cenpe","sig":"ns"},{"panel":"g1d1","gene":"Hmgb3","sig":"ns"},{"panel":"g1d1","gene":"Bard1","sig":"down"},{"panel":"g1d1","gene":"Tfrc","sig":"ns"},{"panel":"g1d1","gene":"Blm","sig":"up"},{"panel":"g1d1","gene":"Ube2t","sig":"up"},{"panel":"g1d1","gene":"Brca2","sig":"down"},
{"panel":"g1d2","gene":"Mki67","sig":"down"},{"panel":"g1d2","gene":"Ncapd2","sig":"down"},{"panel":"g1d2","gene":"Cenpe","sig":"down"},{"panel":"g1d2","gene":"Hmgb3","sig":"down"},{"panel":"g1d2","gene":"Bard1","sig":"up"},{"panel":"g1d2","gene":"Tfrc","sig":"up"},{"panel":"g1d2","gene":"Blm","sig":"down"},{"panel":"g1d2","gene":"Ube2t","sig":"up"},{"panel":"g1d2","gene":"Brca2","sig":"up"},
{"panel":"g2d1","gene":"Epor","sig":"up"},{"panel":"g2d1","gene":"Isg15","sig":"down"},{"panel":"g2d1","gene":"Rsad2","sig":"down"},{"panel":"g2d1","gene":"Gypa","sig":"ns"},{"panel":"g2d1","gene":"Oas3","sig":"ns"},{"panel":"g2d1","gene":"Bpgm","sig":"up"},{"panel":"g2d1","gene":"Prkcq","sig":"none"},{"panel":"g2d1","gene":"Isg20","sig":"up"},{"panel":"g2d1","gene":"Pim1","sig":"up"},
{"panel":"g2d2","gene":"Epor","sig":"up"},{"panel":"g2d2","gene":"Isg15","sig":"up"},{"panel":"g2d2","gene":"Rsad2","sig":"up"},{"panel":"g2d2","gene":"Gypa","sig":"up"},{"panel":"g2d2","gene":"Oas3","sig":"down"},{"panel":"g2d2","gene":"Bpgm","sig":"up"},{"panel":"g2d2","gene":"Prkcq","sig":"down"},{"panel":"g2d2","gene":"Isg20","sig":"up"},{"panel":"g2d2","gene":"Pim1","sig":"up"},
{"panel":"g5d1","gene":"Col6a1","sig":"ns"},{"panel":"g5d1","gene":"Col6a2","sig":"ns"},{"panel":"g5d1","gene":"Dse","sig":"down"},{"panel":"g5d1","gene":"Thbs3","sig":"ns"},{"panel":"g5d1","gene":"Itgb5","sig":"down"},{"panel":"g5d1","gene":"Chpf","sig":"down"},{"panel":"g5d1","gene":"Ust","sig":"down"},{"panel":"g5d1","gene":"Fn1","sig":"down"},{"panel":"g5d1","gene":"Thbs4","sig":"ns"},{"panel":"g5d1","gene":"Comp","sig":"up"},{"panel":"g5d1","gene":"Col4a6","sig":"down"},{"panel":"g5d1","gene":"Col4a4","sig":"up"},
{"panel":"g5d2","gene":"Col6a1","sig":"up"},{"panel":"g5d2","gene":"Col6a2","sig":"up"},{"panel":"g5d2","gene":"Dse","sig":"up"},{"panel":"g5d2","gene":"Thbs3","sig":"up"},{"panel":"g5d2","gene":"Itgb5","sig":"up"},{"panel":"g5d2","gene":"Chpf","sig":"up"},{"panel":"g5d2","gene":"Ust","sig":"up"},{"panel":"g5d2","gene":"Fn1","sig":"up"},{"panel":"g5d2","gene":"Thbs4","sig":"up"},{"panel":"g5d2","gene":"Comp","sig":"up"},{"panel":"g5d2","gene":"Col4a6","sig":"up"},{"panel":"g5d2","gene":"Col4a4","sig":"up"},
{"panel":"g6d1","gene":"Calu","sig":"ns"},{"panel":"g6d1","gene":"Sdc1","sig":"down"},{"panel":"g6d1","gene":"Abi3bp","sig":"down"},{"panel":"g6d1","gene":"Plod2","sig":"ns"},{"panel":"g6d1","gene":"Pmp22","sig":"up"},{"panel":"g6d1","gene":"Vcan","sig":"down"},{"panel":"g6d1","gene":"Ccn2","sig":"ns"},{"panel":"g6d1","gene":"Gas1","sig":"ns"},{"panel":"g6d1","gene":"Tnfrsf11b","sig":"down"},{"panel":"g6d1","gene":"Grem1","sig":"up"},
{"panel":"g6d2","gene":"Calu","sig":"ns"},{"panel":"g6d2","gene":"Sdc1","sig":"up"},{"panel":"g6d2","gene":"Abi3bp","sig":"down"},{"panel":"g6d2","gene":"Plod2","sig":"up"},{"panel":"g6d2","gene":"Pmp22","sig":"up"},{"panel":"g6d2","gene":"Vcan","sig":"ns"},{"panel":"g6d2","gene":"Ccn2","sig":"up"},{"panel":"g6d2","gene":"Gas1","sig":"up"},{"panel":"g6d2","gene":"Tnfrsf11b","sig":"up"},{"panel":"g6d2","gene":"Grem1","sig":"down"}
],
"header":[
{"ds":"d1","kind":"title","text":"dataset 1","col":"C4","tier":1},
{"ds":"d1","kind":"base","text":"c-Fos","col":"C4","tier":2},
{"ds":"d1","kind":"sup","text":"WT","col":"C4","tier":2},
{"ds":"d1","kind":"top","col":"C1","col2":"D3","tier":3},
{"ds":"d1","kind":"edge","text":"Contralateral","col":"C3","tier":4},
{"ds":"d1","kind":"mid","text":"DMM","col":"D2","tier":4},
{"ds":"d1","kind":"grp","col":"C1","col2":"C4","tier":5},
{"ds":"d1","kind":"grp","col":"D1","col2":"D3","tier":5},
{"ds":"d2","kind":"title","text":"dataset 2","col":"K1","tier":1},
{"ds":"d2","kind":"mid","text":"DMM","col":"K1","tier":2},
{"ds":"d2","kind":"top","col":"W1","col2":"K4","tier":3},
{"ds":"d2","kind":"mid","text":"WT","col":"W2","tier":4},
{"ds":"d2","kind":"edge","text":"ΔCh","col":"K3","tier":4},
{"ds":"d2","kind":"left","text":"c-Fos","col":"K4","tier":4},
{"ds":"d2","kind":"grp","col":"W1","col2":"W3","tier":5},
{"ds":"d2","kind":"grp","col":"K1","col2":"K4","tier":5}
]
},
"hconcat":[
{"concat":[
 {"width":40,"height":107,"data":{"values":[{"text":"D","tier":1}]},"mark":{"type":"text","fontSize":36,"baseline":"alphabetic","dx":5},"encoding":{"text":{"field":"text"},"y":{"field":"tier","type":"quantitative","scale":{"domain":[1,2,3,4,5],"range":[32,60,69,95,99],"nice":false,"zero":false},"axis":null}}},
 {"width":13,"height":107,"data":{"values":[{}]},"mark":{"type":"text","text":""}},
 {"width":84,"height":107,"data":{"values":[{}]},"mark":{"type":"text","text":""}},
 {"width":260,"height":107,"data":{"name":"header"},"transform":[{"filter":"datum.ds == 'd1'"}],
  "encoding":{"y":{"field":"tier","type":"quantitative","scale":{"domain":[1,2,3,4,5],"range":[32,60,69,95,99],"nice":false,"zero":false},"axis":null}},
  "layer":[
   {"transform":[{"filter":"datum.kind == 'title'"}],"mark":{"type":"text","fontSize":26,"baseline":"alphabetic","dx":4},"encoding":{"text":{"field":"text"},"x":{"field":"col","type":"nominal","scale":{"domain":["C1","C2","C3","C4","D1","D2","D3"],"paddingInner":0,"paddingOuter":0},"axis":null}}},
   {"transform":[{"filter":"datum.kind == 'mid'"}],"mark":{"type":"text","fontSize":21.5,"baseline":"alphabetic"},"encoding":{"text":{"field":"text"},"x":{"field":"col","type":"nominal","scale":{"domain":["C1","C2","C3","C4","D1","D2","D3"],"paddingInner":0,"paddingOuter":0},"axis":null}}},
   {"transform":[{"filter":"datum.kind == 'edge'"}],"mark":{"type":"text","fontSize":21.5,"baseline":"alphabetic"},"encoding":{"text":{"field":"text"},"x":{"field":"col","type":"nominal","bandPosition":0,"scale":{"domain":["C1","C2","C3","C4","D1","D2","D3"],"paddingInner":0,"paddingOuter":0},"axis":null}}},
   {"transform":[{"filter":"datum.kind == 'base'"}],"mark":{"type":"text","fontSize":21.5,"baseline":"alphabetic","align":"right","dx":-4},"encoding":{"text":{"field":"text"},"x":{"field":"col","type":"nominal","bandPosition":1,"scale":{"domain":["C1","C2","C3","C4","D1","D2","D3"],"paddingInner":0,"paddingOuter":0},"axis":null}}},
   {"transform":[{"filter":"datum.kind == 'sup'"}],"mark":{"type":"text","fontSize":12.5,"baseline":"alphabetic","align":"left","dx":-3,"dy":-9},"encoding":{"text":{"field":"text"},"x":{"field":"col","type":"nominal","bandPosition":1,"scale":{"domain":["C1","C2","C3","C4","D1","D2","D3"],"paddingInner":0,"paddingOuter":0},"axis":null}}},
   {"transform":[{"filter":"datum.kind == 'top'"}],"mark":{"type":"rule","strokeWidth":2,"color":"#231f20","xOffset":-7,"x2Offset":-10},"encoding":{"x":{"field":"col","type":"nominal","bandPosition":0,"scale":{"domain":["C1","C2","C3","C4","D1","D2","D3"],"paddingInner":0,"paddingOuter":0},"axis":null},"x2":{"field":"col2","bandPosition":1}}},
   {"transform":[{"filter":"datum.kind == 'grp'"}],"mark":{"type":"rule","strokeWidth":2,"color":"#231f20","xOffset":2,"x2Offset":-2},"encoding":{"x":{"field":"col","type":"nominal","bandPosition":0,"scale":{"domain":["C1","C2","C3","C4","D1","D2","D3"],"paddingInner":0,"paddingOuter":0},"axis":null},"x2":{"field":"col2","bandPosition":1}}}
  ]},
 {"width":18,"height":107,"data":{"values":[{}]},"mark":{"type":"text","text":""}},
 {"width":259,"height":107,"data":{"name":"header"},"transform":[{"filter":"datum.ds == 'd2'"}],
  "encoding":{"y":{"field":"tier","type":"quantitative","scale":{"domain":[1,2,3,4,5],"range":[32,60,69,95,99],"nice":false,"zero":false},"axis":null}},
  "layer":[
   {"transform":[{"filter":"datum.kind == 'title'"}],"mark":{"type":"text","fontSize":26,"baseline":"alphabetic","dx":8},"encoding":{"text":{"field":"text"},"x":{"field":"col","type":"nominal","scale":{"domain":["W1","W2","W3","K1","K2","K3","K4"],"paddingInner":0,"paddingOuter":0},"axis":null}}},
   {"transform":[{"filter":"datum.kind == 'mid'"}],"mark":{"type":"text","fontSize":21.5,"baseline":"alphabetic"},"encoding":{"text":{"field":"text"},"x":{"field":"col","type":"nominal","scale":{"domain":["W1","W2","W3","K1","K2","K3","K4"],"paddingInner":0,"paddingOuter":0},"axis":null}}},
   {"transform":[{"filter":"datum.kind == 'edge'"}],"mark":{"type":"text","fontSize":21.5,"baseline":"alphabetic","dx":5},"encoding":{"text":{"field":"text"},"x":{"field":"col","type":"nominal","bandPosition":0,"scale":{"domain":["W1","W2","W3","K1","K2","K3","K4"],"paddingInner":0,"paddingOuter":0},"axis":null}}},
   {"transform":[{"filter":"datum.kind == 'left'"}],"mark":{"type":"text","fontSize":21.5,"baseline":"alphabetic","align":"left"},"encoding":{"text":{"field":"text"},"x":{"field":"col","type":"nominal","scale":{"domain":["W1","W2","W3","K1","K2","K3","K4"],"paddingInner":0,"paddingOuter":0},"axis":null}}},
   {"transform":[{"filter":"datum.kind == 'top'"}],"mark":{"type":"rule","strokeWidth":2,"color":"#231f20","xOffset":2,"x2Offset":1},"encoding":{"x":{"field":"col","type":"nominal","bandPosition":0,"scale":{"domain":["W1","W2","W3","K1","K2","K3","K4"],"paddingInner":0,"paddingOuter":0},"axis":null},"x2":{"field":"col2","bandPosition":1}}},
   {"transform":[{"filter":"datum.kind == 'grp'"}],"mark":{"type":"rule","strokeWidth":2,"color":"#231f20","xOffset":1,"x2Offset":-3},"encoding":{"x":{"field":"col","type":"nominal","bandPosition":0,"scale":{"domain":["W1","W2","W3","K1","K2","K3","K4"],"paddingInner":0,"paddingOuter":0},"axis":null},"x2":{"field":"col2","bandPosition":1}}}
  ]},
 {"width":38,"height":107,"data":{"values":[{}]},"mark":{"type":"text","text":""}},

 {"width":40,"height":217,"data":{"values":[{"label":"1.Cell cycle/DNA repair"}]},"mark":{"type":"text","angle":270,"fontSize":19,"baseline":"middle","align":"center","dy":5.3,"clip":true},"encoding":{"text":{"field":"label"}}},
 {"width":13,"height":217,"data":{"values":[{"group":"1"}]},"mark":{"type":"rect","fill":"#3b55a5","stroke":"#231f20","strokeWidth":2},"encoding":{}},
 {"width":84,"height":217,"data":{"values":[{}]},"mark":{"type":"text","text":""}},
 {"width":260,"height":217,"data":{"name":"cells"},"transform":[{"filter":"datum.panel == 'g1d1'"}],"mark":"rect",
  "encoding":{"x":{"field":"col","type":"nominal","scale":{"domain":["C1","C2","C3","C4","D1","D2","D3"],"paddingInner":0,"paddingOuter":0},"axis":{"orient":"top","labelExpr":"slice(datum.label, 1)","labelAngle":0,"labelFontSize":20,"labelPadding":3,"title":null}},
   "y":{"field":"gene","type":"nominal","sort":null,"scale":{"paddingInner":0,"paddingOuter":0},"axis":{"labelFontSize":18.5,"labelPadding":8,"title":null}},
   "color":{"field":"val","type":"quantitative","scale":{"domain":[-1,-0.5,0,0.5,1],"range":["#3a52a3","#9c9ccc","#ffffff","#f6a0a2","#ee2024"],"interpolate":"rgb"},"legend":null}},
  "view":{"stroke":"#231f20","strokeWidth":2.5}},
 {"width":18,"height":217,"data":{"name":"stars"},"transform":[{"filter":"datum.panel == 'g1d1'"}],"mark":{"type":"text","text":"*","fontSize":26,"baseline":"alphabetic","dy":15},
  "encoding":{"y":{"field":"gene","type":"nominal","sort":null,"scale":{"paddingInner":0,"paddingOuter":0},"axis":null},"fill":{"field":"sig","type":"nominal","scale":{"domain":["ns","down","up","none"],"range":["#231f20","#1cb0ea","#ed1c24","rgba(0,0,0,0)"]},"legend":null}}},
 {"width":259,"height":217,"data":{"name":"cells"},"transform":[{"filter":"datum.panel == 'g1d2'"}],"mark":"rect",
  "encoding":{"x":{"field":"col","type":"nominal","scale":{"domain":["W1","W2","W3","K1","K2","K3","K4"],"paddingInner":0,"paddingOuter":0},"axis":{"orient":"top","labelExpr":"slice(datum.label, 1)","labelAngle":0,"labelFontSize":20,"labelPadding":3,"title":null}},
   "y":{"field":"gene","type":"nominal","sort":null,"scale":{"paddingInner":0,"paddingOuter":0},"axis":null},
   "color":{"field":"val","type":"quantitative","scale":{"domain":[-1,-0.5,0,0.5,1],"range":["#3a52a3","#9c9ccc","#ffffff","#f6a0a2","#ee2024"],"interpolate":"rgb"},"legend":null}},
  "view":{"stroke":"#231f20","strokeWidth":2.5}},
 {"width":38,"height":217,"data":{"name":"stars"},"transform":[{"filter":"datum.panel == 'g1d2'"}],"mark":{"type":"text","text":"*","fontSize":26,"baseline":"alphabetic","dy":15,"dx":-9},
  "encoding":{"y":{"field":"gene","type":"nominal","sort":null,"scale":{"paddingInner":0,"paddingOuter":0},"axis":null},"fill":{"field":"sig","type":"nominal","scale":{"domain":["ns","down","up","none"],"range":["#231f20","#1cb0ea","#ed1c24","rgba(0,0,0,0)"]},"legend":null}}},

 {"width":40,"height":219,"data":{"values":[{"label":"2. Immune respons/","line":1},{"label":"Inflammatory respons","line":2}]},
  "layer":[
   {"transform":[{"filter":"datum.line == 1"}],"mark":{"type":"text","angle":270,"fontSize":19,"baseline":"middle","align":"center","dy":-18,"clip":true},"encoding":{"text":{"field":"label"}}},
   {"transform":[{"filter":"datum.line == 2"}],"mark":{"type":"text","angle":270,"fontSize":19,"baseline":"middle","align":"center","dy":3,"clip":true},"encoding":{"text":{"field":"label"}}}
  ]},
 {"width":13,"height":219,"data":{"values":[{"group":"2"}]},"mark":{"type":"rect","fill":"#f8a54a","stroke":"#231f20","strokeWidth":2},"encoding":{}},
 {"width":84,"height":219,"data":{"values":[{}]},"mark":{"type":"text","text":""}},
 {"width":260,"height":219,"data":{"name":"cells"},"transform":[{"filter":"datum.panel == 'g2d1'"}],"mark":"rect",
  "encoding":{"x":{"field":"col","type":"nominal","scale":{"domain":["C1","C2","C3","C4","D1","D2","D3"],"paddingInner":0,"paddingOuter":0},"axis":null},
   "y":{"field":"gene","type":"nominal","sort":null,"scale":{"paddingInner":0,"paddingOuter":0},"axis":{"labelFontSize":18.5,"labelPadding":8,"title":null}},
   "color":{"field":"val","type":"quantitative","scale":{"domain":[-1,-0.5,0,0.5,1],"range":["#3a52a3","#9c9ccc","#ffffff","#f6a0a2","#ee2024"],"interpolate":"rgb"},"legend":null}},
  "view":{"stroke":"#231f20","strokeWidth":2.5}},
 {"width":18,"height":219,"data":{"name":"stars"},"transform":[{"filter":"datum.panel == 'g2d1'"}],"mark":{"type":"text","text":"*","fontSize":26,"baseline":"alphabetic","dy":15},
  "encoding":{"y":{"field":"gene","type":"nominal","sort":null,"scale":{"paddingInner":0,"paddingOuter":0},"axis":null},"fill":{"field":"sig","type":"nominal","scale":{"domain":["ns","down","up","none"],"range":["#231f20","#1cb0ea","#ed1c24","rgba(0,0,0,0)"]},"legend":null}}},
 {"width":259,"height":219,"data":{"name":"cells"},"transform":[{"filter":"datum.panel == 'g2d2'"}],"mark":"rect",
  "encoding":{"x":{"field":"col","type":"nominal","scale":{"domain":["W1","W2","W3","K1","K2","K3","K4"],"paddingInner":0,"paddingOuter":0},"axis":null},
   "y":{"field":"gene","type":"nominal","sort":null,"scale":{"paddingInner":0,"paddingOuter":0},"axis":null},
   "color":{"field":"val","type":"quantitative","scale":{"domain":[-1,-0.5,0,0.5,1],"range":["#3a52a3","#9c9ccc","#ffffff","#f6a0a2","#ee2024"],"interpolate":"rgb"},"legend":null}},
  "view":{"stroke":"#231f20","strokeWidth":2.5}},
 {"width":38,"height":219,"data":{"name":"stars"},"transform":[{"filter":"datum.panel == 'g2d2'"}],"mark":{"type":"text","text":"*","fontSize":26,"baseline":"alphabetic","dy":15,"dx":-9},
  "encoding":{"y":{"field":"gene","type":"nominal","sort":null,"scale":{"paddingInner":0,"paddingOuter":0},"axis":null},"fill":{"field":"sig","type":"nominal","scale":{"domain":["ns","down","up","none"],"range":["#231f20","#1cb0ea","#ed1c24","rgba(0,0,0,0)"]},"legend":null}}}
],"columns":7,"spacing":{"row":23,"column":0},"align":"each","bounds":"flush"},
{"concat":[
 {"width":35,"height":110,"data":{"values":[{}]},"mark":{"type":"text","text":""}},
 {"width":13,"height":110,"data":{"values":[{}]},"mark":{"type":"text","text":""}},
 {"width":91,"height":110,"data":{"values":[{}]},"mark":{"type":"text","text":""}},
 {"width":258,"height":110,"data":{"name":"header"},"transform":[{"filter":"datum.ds == 'd1'"}],
  "encoding":{"y":{"field":"tier","type":"quantitative","scale":{"domain":[1,2,3,4,5],"range":[32,61,69,95,99],"nice":false,"zero":false},"axis":null}},
  "layer":[
   {"transform":[{"filter":"datum.kind == 'title'"}],"mark":{"type":"text","fontSize":26,"baseline":"alphabetic"},"encoding":{"text":{"field":"text"},"x":{"field":"col","type":"nominal","scale":{"domain":["C1","C2","C3","C4","D1","D2","D3"],"paddingInner":0,"paddingOuter":0},"axis":null}}},
   {"transform":[{"filter":"datum.kind == 'mid'"}],"mark":{"type":"text","fontSize":21.5,"baseline":"alphabetic"},"encoding":{"text":{"field":"text"},"x":{"field":"col","type":"nominal","scale":{"domain":["C1","C2","C3","C4","D1","D2","D3"],"paddingInner":0,"paddingOuter":0},"axis":null}}},
   {"transform":[{"filter":"datum.kind == 'edge'"}],"mark":{"type":"text","fontSize":21.5,"baseline":"alphabetic","dx":-5},"encoding":{"text":{"field":"text"},"x":{"field":"col","type":"nominal","bandPosition":0,"scale":{"domain":["C1","C2","C3","C4","D1","D2","D3"],"paddingInner":0,"paddingOuter":0},"axis":null}}},
   {"transform":[{"filter":"datum.kind == 'base'"}],"mark":{"type":"text","fontSize":21.5,"baseline":"alphabetic","align":"right","dx":-9},"encoding":{"text":{"field":"text"},"x":{"field":"col","type":"nominal","bandPosition":1,"scale":{"domain":["C1","C2","C3","C4","D1","D2","D3"],"paddingInner":0,"paddingOuter":0},"axis":null}}},
   {"transform":[{"filter":"datum.kind == 'sup'"}],"mark":{"type":"text","fontSize":12.5,"baseline":"alphabetic","align":"left","dx":-8,"dy":-9},"encoding":{"text":{"field":"text"},"x":{"field":"col","type":"nominal","bandPosition":1,"scale":{"domain":["C1","C2","C3","C4","D1","D2","D3"],"paddingInner":0,"paddingOuter":0},"axis":null}}},
   {"transform":[{"filter":"datum.kind == 'top'"}],"mark":{"type":"rule","strokeWidth":2,"color":"#231f20","xOffset":-14,"x2Offset":-16},"encoding":{"x":{"field":"col","type":"nominal","bandPosition":0,"scale":{"domain":["C1","C2","C3","C4","D1","D2","D3"],"paddingInner":0,"paddingOuter":0},"axis":null},"x2":{"field":"col2","bandPosition":1}}},
   {"transform":[{"filter":"datum.kind == 'grp'"}],"mark":{"type":"rule","strokeWidth":2,"color":"#231f20","xOffset":-9,"x2Offset":-6},"encoding":{"x":{"field":"col","type":"nominal","bandPosition":0,"scale":{"domain":["C1","C2","C3","C4","D1","D2","D3"],"paddingInner":0,"paddingOuter":0},"axis":null},"x2":{"field":"col2","bandPosition":1}}}
  ]},
 {"width":20,"height":110,"data":{"values":[{}]},"mark":{"type":"text","text":""}},
 {"width":259,"height":110,"data":{"name":"header"},"transform":[{"filter":"datum.ds == 'd2'"}],
  "encoding":{"y":{"field":"tier","type":"quantitative","scale":{"domain":[1,2,3,4,5],"range":[32,61,69,95,99],"nice":false,"zero":false},"axis":null}},
  "layer":[
   {"transform":[{"filter":"datum.kind == 'title'"}],"mark":{"type":"text","fontSize":26,"baseline":"alphabetic","dx":4},"encoding":{"text":{"field":"text"},"x":{"field":"col","type":"nominal","scale":{"domain":["W1","W2","W3","K1","K2","K3","K4"],"paddingInner":0,"paddingOuter":0},"axis":null}}},
   {"transform":[{"filter":"datum.kind == 'mid'"}],"mark":{"type":"text","fontSize":21.5,"baseline":"alphabetic","dx":-4},"encoding":{"text":{"field":"text"},"x":{"field":"col","type":"nominal","scale":{"domain":["W1","W2","W3","K1","K2","K3","K4"],"paddingInner":0,"paddingOuter":0},"axis":null}}},
   {"transform":[{"filter":"datum.kind == 'edge'"}],"mark":{"type":"text","fontSize":21.5,"baseline":"alphabetic","dx":-2},"encoding":{"text":{"field":"text"},"x":{"field":"col","type":"nominal","bandPosition":0,"scale":{"domain":["W1","W2","W3","K1","K2","K3","K4"],"paddingInner":0,"paddingOuter":0},"axis":null}}},
   {"transform":[{"filter":"datum.kind == 'left'"}],"mark":{"type":"text","fontSize":21.5,"baseline":"alphabetic","align":"left","dx":-9},"encoding":{"text":{"field":"text"},"x":{"field":"col","type":"nominal","scale":{"domain":["W1","W2","W3","K1","K2","K3","K4"],"paddingInner":0,"paddingOuter":0},"axis":null}}},
   {"transform":[{"filter":"datum.kind == 'top'"}],"mark":{"type":"rule","strokeWidth":2,"color":"#231f20","xOffset":-4,"x2Offset":-8},"encoding":{"x":{"field":"col","type":"nominal","bandPosition":0,"scale":{"domain":["W1","W2","W3","K1","K2","K3","K4"],"paddingInner":0,"paddingOuter":0},"axis":null},"x2":{"field":"col2","bandPosition":1}}},
   {"transform":[{"filter":"datum.kind == 'grp'"}],"mark":{"type":"rule","strokeWidth":2,"color":"#231f20","xOffset":-6,"x2Offset":-6},"encoding":{"x":{"field":"col","type":"nominal","bandPosition":0,"scale":{"domain":["W1","W2","W3","K1","K2","K3","K4"],"paddingInner":0,"paddingOuter":0},"axis":null},"x2":{"field":"col2","bandPosition":1}}}
  ]},
 {"width":22,"height":110,"data":{"values":[{}]},"mark":{"type":"text","text":""}},

 {"width":35,"height":290,"data":{"values":[{"label":"5. ECM synthesis/remodeling"}]},"mark":{"type":"text","angle":270,"fontSize":19,"baseline":"middle","align":"center","dy":1.5,"dx":8},"encoding":{"text":{"field":"label"}}},
 {"width":13,"height":290,"data":{"values":[{"group":"5"}]},"mark":{"type":"rect","fill":"#8c4b9c","stroke":"#231f20","strokeWidth":2},"encoding":{}},
 {"width":91,"height":290,"data":{"values":[{}]},"mark":{"type":"text","text":""}},
 {"width":258,"height":290,"data":{"name":"cells"},"transform":[{"filter":"datum.panel == 'g5d1'"}],"mark":"rect",
  "encoding":{"x":{"field":"col","type":"nominal","scale":{"domain":["C1","C2","C3","C4","D1","D2","D3"],"paddingInner":0,"paddingOuter":0},"axis":{"orient":"top","labelExpr":"slice(datum.label, 1)","labelAngle":0,"labelFontSize":20,"labelPadding":3,"title":null}},
   "y":{"field":"gene","type":"nominal","sort":null,"scale":{"paddingInner":0,"paddingOuter":0},"axis":{"labelFontSize":18.5,"labelPadding":8,"title":null}},
   "color":{"field":"val","type":"quantitative","scale":{"domain":[-1,-0.5,0,0.5,1],"range":["#3a52a3","#9c9ccc","#ffffff","#f6a0a2","#ee2024"],"interpolate":"rgb"},"legend":null}},
  "view":{"stroke":"#231f20","strokeWidth":2.5}},
 {"width":20,"height":290,"data":{"name":"stars"},"transform":[{"filter":"datum.panel == 'g5d1'"}],"mark":{"type":"text","text":"*","fontSize":26,"baseline":"alphabetic","dy":15},
  "encoding":{"y":{"field":"gene","type":"nominal","sort":null,"scale":{"paddingInner":0,"paddingOuter":0},"axis":null},"fill":{"field":"sig","type":"nominal","scale":{"domain":["ns","down","up","none"],"range":["#231f20","#1cb0ea","#ed1c24","rgba(0,0,0,0)"]},"legend":null}}},
 {"width":259,"height":290,"data":{"name":"cells"},"transform":[{"filter":"datum.panel == 'g5d2'"}],"mark":"rect",
  "encoding":{"x":{"field":"col","type":"nominal","scale":{"domain":["W1","W2","W3","K1","K2","K3","K4"],"paddingInner":0,"paddingOuter":0},"axis":{"orient":"top","labelExpr":"slice(datum.label, 1)","labelAngle":0,"labelFontSize":20,"labelPadding":3,"title":null}},
   "y":{"field":"gene","type":"nominal","sort":null,"scale":{"paddingInner":0,"paddingOuter":0},"axis":null},
   "color":{"field":"val","type":"quantitative","scale":{"domain":[-1,-0.5,0,0.5,1],"range":["#3a52a3","#9c9ccc","#ffffff","#f6a0a2","#ee2024"],"interpolate":"rgb"},"legend":null}},
  "view":{"stroke":"#231f20","strokeWidth":2.5}},
 {"width":22,"height":290,"data":{"name":"stars"},"transform":[{"filter":"datum.panel == 'g5d2'"}],"mark":{"type":"text","text":"*","fontSize":26,"baseline":"alphabetic","dy":15},
  "encoding":{"y":{"field":"gene","type":"nominal","sort":null,"scale":{"paddingInner":0,"paddingOuter":0},"axis":null},"fill":{"field":"sig","type":"nominal","scale":{"domain":["ns","down","up","none"],"range":["#231f20","#1cb0ea","#ed1c24","rgba(0,0,0,0)"]},"legend":null}}},

 {"width":35,"height":267,"data":{"values":[{"label":"6. Epitheliam Mesenchymal","line":1},{"label":"Transition","line":2}]},
  "layer":[
   {"transform":[{"filter":"datum.line == 1"}],"mark":{"type":"text","angle":270,"fontSize":19,"baseline":"middle","align":"center","dy":-10.5},"encoding":{"text":{"field":"label"}}},
   {"transform":[{"filter":"datum.line == 2"}],"mark":{"type":"text","angle":270,"fontSize":19,"baseline":"middle","align":"center","dy":5}, "encoding":{"text":{"field":"label"}}}
  ]},
 {"width":13,"height":267,"data":{"values":[{"group":"6"}]},"mark":{"type":"rect","fill":"#7f7f7f","stroke":"#231f20","strokeWidth":2},"encoding":{}},
 {"width":91,"height":267,"data":{"values":[{}]},"mark":{"type":"text","text":""}},
 {"width":258,"height":267,"data":{"name":"cells"},"transform":[{"filter":"datum.panel == 'g6d1'"}],"mark":"rect",
  "encoding":{"x":{"field":"col","type":"nominal","scale":{"domain":["C1","C2","C3","C4","D1","D2","D3"],"paddingInner":0,"paddingOuter":0},"axis":null},
   "y":{"field":"gene","type":"nominal","sort":null,"scale":{"paddingInner":0,"paddingOuter":0},"axis":{"labelFontSize":18.5,"labelPadding":8,"title":null}},
   "color":{"field":"val","type":"quantitative","scale":{"domain":[-1,-0.5,0,0.5,1],"range":["#3a52a3","#9c9ccc","#ffffff","#f6a0a2","#ee2024"],"interpolate":"rgb"},"legend":null}},
  "view":{"stroke":"#231f20","strokeWidth":2.5}},
 {"width":20,"height":267,"data":{"name":"stars"},"transform":[{"filter":"datum.panel == 'g6d1'"}],"mark":{"type":"text","text":"*","fontSize":26,"baseline":"alphabetic","dy":15},
  "encoding":{"y":{"field":"gene","type":"nominal","sort":null,"scale":{"paddingInner":0,"paddingOuter":0},"axis":null},"fill":{"field":"sig","type":"nominal","scale":{"domain":["ns","down","up","none"],"range":["#231f20","#1cb0ea","#ed1c24","rgba(0,0,0,0)"]},"legend":null}}},
 {"width":259,"height":267,"data":{"name":"cells"},"transform":[{"filter":"datum.panel == 'g6d2'"}],"mark":"rect",
  "encoding":{"x":{"field":"col","type":"nominal","scale":{"domain":["W1","W2","W3","K1","K2","K3","K4"],"paddingInner":0,"paddingOuter":0},"axis":null},
   "y":{"field":"gene","type":"nominal","sort":null,"scale":{"paddingInner":0,"paddingOuter":0},"axis":null},
   "color":{"field":"val","type":"quantitative","scale":{"domain":[-1,-0.5,0,0.5,1],"range":["#3a52a3","#9c9ccc","#ffffff","#f6a0a2","#ee2024"],"interpolate":"rgb"},"legend":null}},
  "view":{"stroke":"#231f20","strokeWidth":2.5}},
 {"width":22,"height":267,"data":{"name":"stars"},"transform":[{"filter":"datum.panel == 'g6d2'"}],"mark":{"type":"text","text":"*","fontSize":26,"baseline":"alphabetic","dy":15},
  "encoding":{"y":{"field":"gene","type":"nominal","sort":null,"scale":{"paddingInner":0,"paddingOuter":0},"axis":null},"fill":{"field":"sig","type":"nominal","scale":{"domain":["ns","down","up","none"],"range":["#231f20","#1cb0ea","#ed1c24","rgba(0,0,0,0)"]},"legend":null}}}
],"columns":7,"spacing":{"row":22,"column":0},"align":"each","bounds":"flush"}
],
"spacing":0
}
